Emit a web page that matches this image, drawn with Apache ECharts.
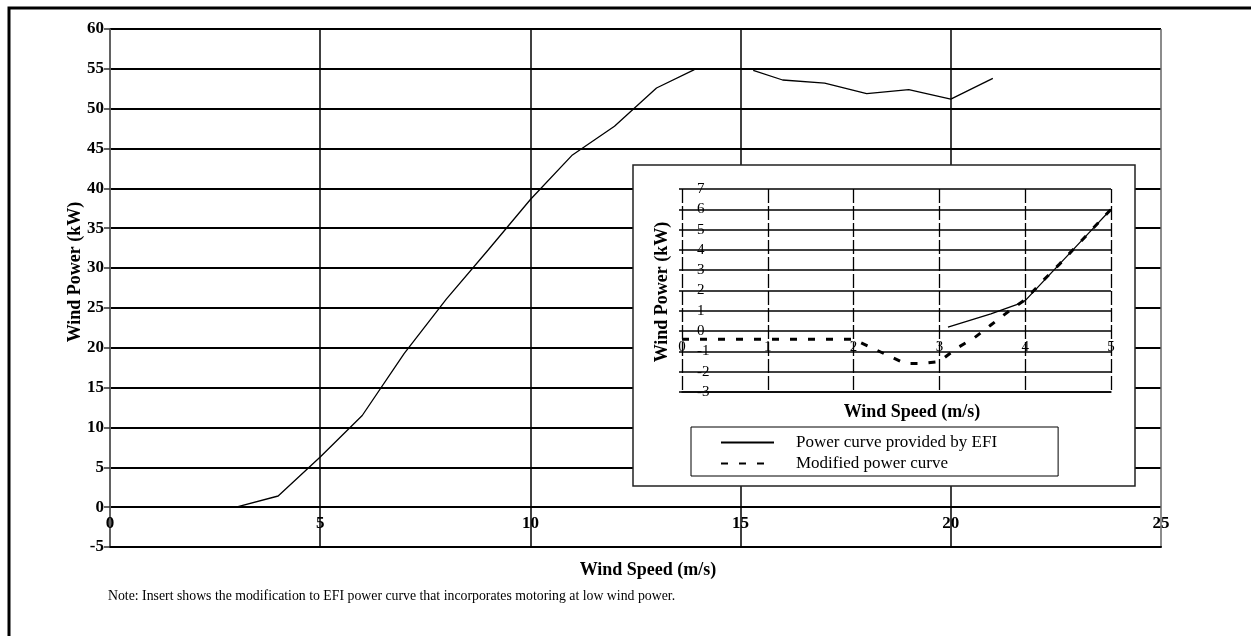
<!DOCTYPE html>
<html>
<head>
<meta charset="utf-8">
<script src="https://cdn.jsdelivr.net/npm/echarts@6.0.0/dist/echarts.min.js"></script>
<style>
  html, body { margin: 0; padding: 0; background: #fff; }
  #chart { width: 1251px; height: 636px; }
</style>
</head>
<body>
<div id="chart"></div>
<script>
// main curve (kW vs m/s), null = gap in the original trace
var mainSpeed = [3, 4, 5, 6, 7, 8, 9, 10, 11, 12, 13, 13.9, 14.6, 15.3, 16, 17, 18, 19, 20, 21];
var mainPower = [0, 1.4, 6.3, 11.5, 19.3, 26.1, 32.3, 38.6, 44.2, 47.8, 52.6, 54.9, null, 54.8, 53.6, 53.2, 51.9, 52.4, 51.2, 53.8];

// insert: low wind power region
var efiSpeed = [3.1, 3.6, 3.9, 4.0, 4.2, 4.4, 4.6, 4.8, 5.0];
var efiPower = [0.2, 0.85, 1.3, 1.5, 2.4, 3.3, 4.2, 5.1, 6.0];
var modSpeed = [0, 1, 2, 2.2, 2.4, 2.6, 2.8, 3.0, 3.2, 3.4, 3.6, 3.8, 4.0, 4.2, 4.4, 4.6, 4.8, 5.0];
var modPower = [-0.4, -0.4, -0.4, -0.8, -1.2, -1.6, -1.6, -1.5, -0.85, -0.35, 0.3, 0.95, 1.55, 2.45, 3.3, 4.2, 5.1, 6.0];

var seriesNames = ['Power curve provided by EFI', 'Modified power curve'];

function pairs(xs, ys) {
    return xs.map(function (x, i) { return [x, ys[i]]; });
}

var FONT = '"Liberation Serif", "Times New Roman", serif';

var myChart = echarts.init(document.getElementById('chart'));
myChart.setOption({
    animation: false,
    grid: [
        { left: 110, top: 29, right: 90, bottom: 89 },
        { left: 682, top: 189, right: 140, bottom: 244, z: 3 }
    ],
    xAxis: [
        {
            type: 'value', gridIndex: 0, min: 0, max: 25, interval: 5, z: 0,
            axisLine: { onZero: false, lineStyle: { color: '#000', width: 2 } },
            axisTick: { show: false },
            // labels sit just under the zero line, inside the plot
            axisLabel: { inside: true, margin: 15, color: '#000', fontSize: 17, fontWeight: 'bold', fontFamily: FONT },
            splitLine: { lineStyle: { color: ['#666', '#000', '#000', '#000', '#000', '#666'], width: 1.5 } }
        },
        {
            type: 'value', gridIndex: 1, min: 0, max: 5, interval: 1, z: 3,
            axisLine: { onZero: false, lineStyle: { color: '#000', width: 1.5 } },
            axisTick: { show: false },
            axisLabel: { inside: true, margin: 37, color: '#000', fontSize: 15, fontFamily: FONT },
            splitLine: { lineStyle: { color: '#000', width: 1.3, type: [14, 3] } }
        }
    ],
    yAxis: [
        {
            type: 'value', gridIndex: 0, min: -5, max: 60, interval: 5, z: 0,
            axisLine: { show: true, lineStyle: { color: '#555', width: 1.5 } },
            axisTick: { show: true, length: 6, lineStyle: { color: '#333', width: 1.5 } },
            axisLabel: { margin: 6, color: '#000', fontSize: 17, fontWeight: 'bold', fontFamily: FONT },
            splitLine: { lineStyle: { color: '#000', width: 2 } }
        },
        {
            type: 'value', gridIndex: 1, min: -3, max: 7, interval: 1, z: 3,
            axisLine: { show: false },
            axisTick: { show: true, length: 3, lineStyle: { color: '#000', width: 1.5 } },
            axisLabel: {
                inside: true, margin: 15, color: '#000', fontSize: 15, fontFamily: FONT,
                verticalAlign: 'middle', padding: [0, 0, 8, 0]
            },
            splitLine: { lineStyle: { color: '#000', width: 1.5 } }
        }
    ],
    legend: {
        data: seriesNames,
        orient: 'vertical',
        left: 691, top: 427,
        padding: [7, 61, 4, 29],
        itemWidth: 53, itemHeight: 20, itemGap: 4,
        borderColor: '#000', borderWidth: 1,
        backgroundColor: '#fff',
        z: 6,
        itemStyle: { opacity: 0 },
        lineStyle: { color: '#000' },
        textStyle: { color: '#000', fontSize: 17, fontFamily: FONT, padding: [0, 0, 0, 17] }
    },
    graphic: [
        {
            type: 'rect', z: 1,
            shape: { x: 633, y: 165, width: 502, height: 321 },
            style: { fill: '#fff', stroke: '#222', lineWidth: 1.5 }
        },
        {
            type: 'rect', z: 10,
            shape: { x: 9, y: 8, width: 1300, height: 700 },
            style: { fill: 'none', stroke: '#000', lineWidth: 3 }
        },
        {
            type: 'text', z: 10, x: 75, y: 272, rotation: Math.PI / 2,
            style: { text: 'Wind Power (kW)', font: 'bold 18px ' + FONT, fill: '#000', textAlign: 'center', textVerticalAlign: 'middle' }
        },
        {
            type: 'text', z: 10, x: 648, y: 570,
            style: { text: 'Wind Speed (m/s)', font: 'bold 18px ' + FONT, fill: '#000', textAlign: 'center', textVerticalAlign: 'middle' }
        },
        {
            type: 'text', z: 10, x: 108, y: 596,
            style: { text: 'Note: Insert shows the modification to EFI power curve that incorporates motoring at low wind power.', font: '13.8px ' + FONT, fill: '#000', textAlign: 'left', textVerticalAlign: 'middle' }
        },
        {
            type: 'text', z: 10, x: 662, y: 292, rotation: Math.PI / 2,
            style: { text: 'Wind Power (kW)', font: 'bold 18px ' + FONT, fill: '#000', textAlign: 'center', textVerticalAlign: 'middle' }
        },
        {
            type: 'text', z: 10, x: 912, y: 412,
            style: { text: 'Wind Speed (m/s)', font: 'bold 18px ' + FONT, fill: '#000', textAlign: 'center', textVerticalAlign: 'middle' }
        }
    ],
    series: [
        {
            type: 'line', xAxisIndex: 0, yAxisIndex: 0, z: 2,
            data: pairs(mainSpeed, mainPower),
            symbol: 'none', connectNulls: false,
            lineStyle: { color: '#000', width: 1.3 }
        },
        {
            name: seriesNames[0], type: 'line', xAxisIndex: 1, yAxisIndex: 1, z: 5,
            data: pairs(efiSpeed, efiPower),
            symbol: 'none', color: '#000',
            lineStyle: { color: '#000', width: 1.3 }
        },
        {
            name: seriesNames[1], type: 'line', xAxisIndex: 1, yAxisIndex: 1, z: 5,
            data: pairs(modSpeed, modPower),
            symbol: 'none', color: '#000',
            lineStyle: { color: '#000', width: 3, type: [7, 11] }
        }
    ]
});
</script>
</body>
</html>
